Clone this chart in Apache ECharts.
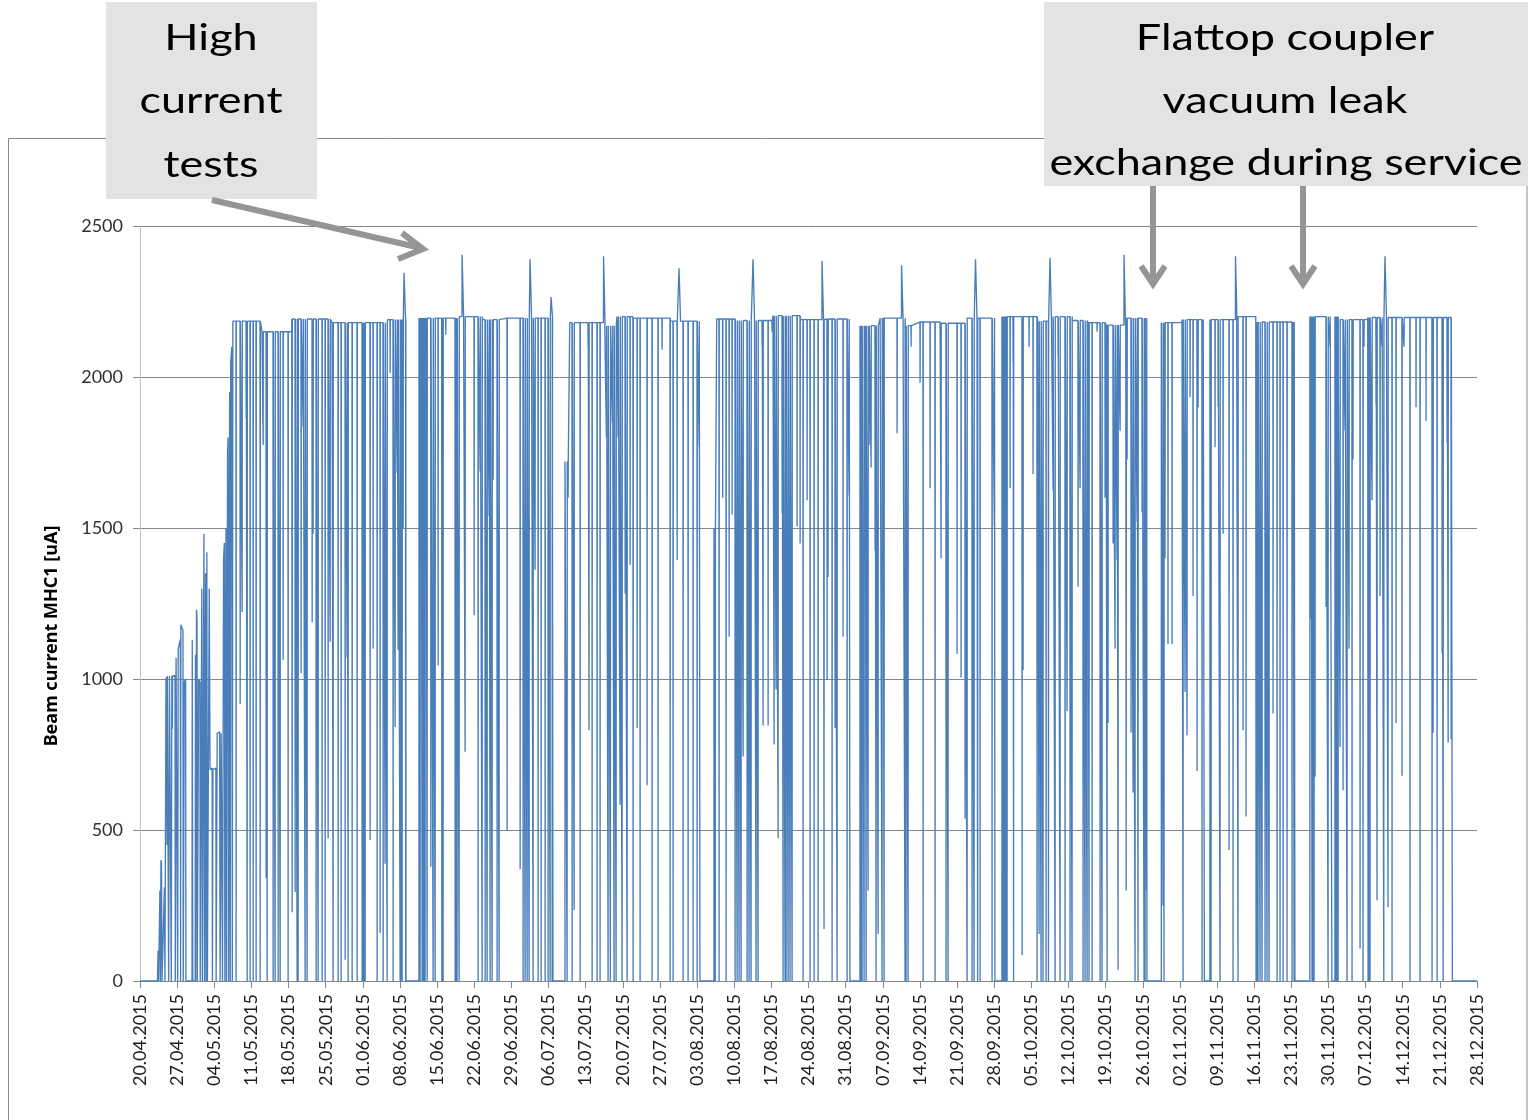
<!DOCTYPE html>
<html>
<head>
<meta charset="utf-8">
<title>Beam current MHC1 2015</title>
<script src="https://cdn.jsdelivr.net/npm/echarts@6/dist/echarts.min.js"></script>
<style>
  html, body { margin: 0; padding: 0; background: #ffffff; }
  #chart { width: 1537px; height: 1120px; }
</style>
</head>
<body>
<div id="chart"></div>
<script>
// Time is counted in days since Monday 20.04.2015; values are beam current in uA.
const START_DATE = Date.UTC(2015, 3, 20);
const AXIS_DAYS = 252;            // 20.04.2015 .. 28.12.2015
const TICK_DAYS = 7;              // weekly date labels
const Y_TICKS = [0, 500, 1000, 1500, 2000, 2500];

// Commissioning ramp before the first production week: [day, uA]
const ramp = [
  [0, 0], [3.3, 0], [3.4, 100], [3.5, 0], [3.7, 0], [3.75, 300], [3.85, 0], [3.95, 400], [4.05, 390], [4.15, 0],
  [4.5, 0], [4.6, 310], [4.7, 0], [4.85, 0],
  [4.9, 1005], [5.05, 1010], [5.1, 450], [5.15, 1010], [5.35, 1010], [5.4, 0], [5.5, 0], [5.55, 1010], [5.85, 1010],
  [5.9, 0], [6.0, 1010], [6.1, 835], [6.15, 1010], [6.6, 1012], [6.65, 0], [6.75, 0], [6.8, 1070], [7.0, 1075],
  [7.1, 0], [7.2, 1100], [7.6, 1130], [7.65, 0], [7.7, 1180], [8.1, 1160], [8.15, 0], [8.3, 0], [8.35, 990],
  [8.6, 1000], [8.65, 0],
  [9.8, 0], [9.85, 1130], [9.95, 0], [10.4, 0], [10.45, 1080], [10.5, 0], [10.6, 0], [10.65, 1230], [10.75, 1195],
  [10.8, 0], [11.0, 0], [11.05, 1000], [11.3, 990], [11.35, 0], [11.6, 0], [11.65, 1300], [11.75, 0], [12.0, 0],
  [12.05, 1480], [12.15, 0], [12.3, 0], [12.35, 1350], [12.45, 0], [12.6, 1420], [12.7, 0], [13.0, 0], [13.05, 1300],
  [13.2, 700], [13.6, 705], [13.65, 0], [13.75, 700], [14.3, 705], [14.35, 0], [14.5, 0], [14.55, 820], [15.0, 825],
  [15.1, 0], [15.3, 820], [15.5, 820], [15.55, 0], [15.7, 0], [15.75, 1400], [15.9, 1450], [16.0, 0], [16.2, 1500],
  [16.3, 0], [16.5, 1750], [16.6, 1800], [16.7, 0], [16.9, 1950], [17.0, 0], [17.1, 2050], [17.3, 2100], [17.4, 0]
];

// Production periods with beam on: [first day, last day]
const runs = [
  [17.5, 50.13], [52.58, 77.84], [80.10, 105.54], [108.18, 133.81], [135.70, 161.14],
  [162.46, 189.79], [192.5, 200.62], [201.66, 217.68], [220.5, 224.65], [225.22, 247.36]
];

// Flattop current set points: [day from which it applies, uA]
const levelSteps = [
  [17.5, 2185], [23.0, 2150], [28.6, 2192], [36.2, 2180], [46.7, 2190],
  [52.58, 2195], [59.9, 2200], [64.6, 2190], [67.8, 2195],
  [80.1, 1720], [81.0, 2180], [87.6, 2170], [89.9, 2200], [92.9, 2195], [99.9, 2185],
  [108.18, 1500], [108.7, 2192], [112.5, 2187], [119.3, 2203], [124.4, 2190], [129.1, 2192],
  [135.7, 2170], [139.5, 2195], [144.2, 2170], [147.0, 2182], [150.8, 2178], [155.9, 2195],
  [162.46, 2200], [169.2, 2185], [172.1, 2200], [175.7, 2187], [178.7, 2180], [182.1, 2172], [185.8, 2195],
  [192.5, 2180], [196.4, 2190], [206.7, 2200], [210.3, 2182],
  [220.5, 2200], [225.8, 2190], [231.4, 2197]
];

// Beam trips: [day, lowest current reached in uA]
const trips = [
  [18.09, 0], [18.85, 917], [19.22, 1222], [19.98, 1864], [20.17, 0], [20.73, 0], [21.30, 0], [21.86, 0], [22.62, 0],
  [23.18, 1775], [23.75, 341], [23.94, 0], [25.07, 0], [25.44, 0], [26.01, 0], [26.39, 0], [26.95, 1064], [27.89, 0],
  [28.65, 228], [29.21, 295], [29.59, 0], [29.78, 0], [30.34, 1020], [30.72, 1834], [31.10, 0], [31.47, 0],
  [32.42, 1189], [32.60, 1481], [33.17, 0], [33.55, 0], [34.30, 0], [34.87, 0], [35.43, 473], [35.81, 1123],
  [36.37, 0], [37.32, 0], [37.88, 0], [38.64, 70], [39.01, 1070], [39.20, 0], [39.96, 0], [40.90, 0], [41.84, 0],
  [42.03, 0], [42.22, 0], [42.41, 0], [43.35, 467], [43.91, 1100], [44.67, 0], [45.23, 159], [45.80, 0],
  [46.17, 388], [46.55, 0], [47.12, 2013], [47.68, 0], [48.06, 841], [48.44, 1682], [48.62, 1096], [49.00, 0],
  [49.19, 0], [49.38, 0], [49.57, 1500], [50.05, 0],

  [52.77, 0], [52.96, 1800], [53.15, 0], [53.34, 0], [53.52, 0], [53.71, 0], [53.90, 2050], [54.09, 0], [54.79, 378],
  [55.22, 0], [55.60, 0], [56.16, 1045], [56.86, 0], [57.10, 0], [57.61, 2140], [59.37, 0], [59.55, 0], [59.74, 0],
  [60.12, 0], [61.25, 759], [62.95, 1211], [63.70, 0], [64.08, 1687], [64.46, 0], [65.02, 0], [65.40, 0],
  [65.77, 1540], [65.96, 0], [66.34, 0], [66.53, 1660], [67.28, 0], [67.66, 0], [69.17, 497], [71.62, 370],
  [72.18, 0], [72.56, 0], [72.94, 0], [73.31, 0], [74.07, 0], [74.44, 1362], [75.01, 0], [75.58, 0], [76.33, 0],
  [76.89, 0], [77.27, 0], [77.65, 0],

  [80.47, 0], [80.66, 1600], [81.42, 0], [81.80, 235], [82.93, 0], [84.43, 2100], [84.60, 830], [85.19, 0],
  [86.13, 0], [86.69, 0], [87.88, 1800], [88.20, 0], [88.63, 0], [89.01, 1850], [89.33, 0], [89.71, 0],
  [90.08, 1800], [90.46, 584], [90.84, 0], [91.41, 1283], [91.78, 0], [92.35, 1378], [92.92, 0], [93.67, 838],
  [94.23, 0], [95.55, 648], [96.49, 0], [97.62, 0], [98.38, 2090], [99.89, 0], [100.45, 0], [101.21, 1394],
  [102.34, 0], [103.28, 0], [104.22, 0], [104.98, 0], [105.36, 1770],

  [108.40, 0], [109.12, 0], [109.80, 1600], [110.44, 0], [111.01, 1140], [111.57, 1545], [112.14, 0], [112.52, 0],
  [112.89, 0], [113.27, 0], [113.65, 743], [114.40, 0], [114.78, 0], [115.15, 0], [116.09, 0], [116.47, 0],
  [117.23, 2100], [117.41, 846], [118.36, 846], [119.11, 2150], [119.49, 783], [119.86, 965], [120.24, 473],
  [121.00, 1550], [121.18, 0], [121.56, 0], [121.75, 0], [122.13, 0], [122.50, 0], [122.88, 0], [123.82, 1505],
  [124.39, 1449], [124.95, 0], [125.71, 1592], [126.27, 0], [127.03, 0], [127.78, 0], [128.90, 172], [129.48, 997],
  [129.66, 1338], [130.42, 0], [130.98, 838], [131.36, 0], [132.49, 1140], [133.25, 0], [133.62, 1608],

  [135.88, 0], [136.07, 0], [136.45, 0], [136.64, 1500], [136.83, 0], [137.20, 300], [137.39, 1775], [137.77, 1700],
  [138.52, 1425], [138.71, 0], [139.09, 156], [139.84, 0], [140.03, 1862], [140.22, 0], [142.67, 1814],
  [144.17, 0], [144.36, 0], [144.74, 0], [145.31, 2100], [147.00, 1981], [147.57, 0], [148.89, 1632], [149.83, 0],
  [150.96, 1400], [151.90, 0], [152.28, 0], [153.98, 1084], [154.73, 1005], [155.48, 537], [155.86, 0],
  [156.80, 0], [157.18, 0], [157.85, 0], [158.31, 0], [160.57, 0], [161.00, 1505],

  [162.65, 0], [162.83, 0], [163.02, 0], [163.21, 0], [163.40, 0], [163.97, 1632], [164.53, 2050], [164.62, 0],
  [166.23, 85], [166.42, 1029], [167.55, 2100], [168.30, 1679], [169.05, 0], [169.43, 156], [169.81, 0],
  [170.18, 0], [170.75, 0], [171.20, 0], [172.07, 1624], [172.45, 0], [173.01, 2068], [173.39, 0], [174.33, 0],
  [174.71, 894], [175.27, 0], [175.65, 0], [176.78, 1306], [177.16, 1632], [177.72, 0], [178.10, 0], [178.48, 0],
  [178.85, 0], [179.42, 0], [180.36, 2150], [180.93, 0], [181.30, 0], [181.87, 1600], [182.25, 0], [182.43, 854],
  [183.38, 1449], [183.75, 1100], [184.13, 1394], [184.32, 37], [184.70, 1822], [185.85, 300], [186.02, 1727],
  [186.77, 822], [187.15, 624], [187.52, 0], [187.90, 1521], [188.09, 0], [188.84, 1552], [189.22, 0],
  [189.41, 0], [189.69, 300],

  [192.79, 250], [192.98, 0], [193.17, 1400], [193.73, 1116], [194.49, 1116], [196.38, 2100], [196.57, 0],
  [196.95, 957], [197.32, 814], [197.89, 1933], [198.45, 1275], [199.21, 695], [199.40, 1900], [200.15, 0],
  [200.34, 1965],
  [201.85, 0], [202.60, 1767], [203.17, 1902], [203.54, 0], [204.11, 1481], [205.24, 434], [205.99, 0],
  [206.93, 0], [207.88, 830], [208.44, 545], [210.33, 0], [210.52, 0], [210.70, 0], [211.08, 0], [211.46, 0],
  [212.02, 0], [212.40, 0], [212.78, 0], [213.53, 886], [214.29, 0], [214.85, 0], [215.42, 0], [216.17, 0],
  [217.11, 0], [217.30, 1450], [217.49, 0],

  [220.69, 1200], [220.88, 0], [221.07, 0], [221.26, 0], [221.45, 676], [223.52, 1238], [223.90, 0], [224.27, 2100],
  [225.41, 0], [225.60, 0], [225.79, 0], [226.16, 775], [226.73, 632], [227.10, 1822], [227.48, 0], [227.86, 1100],
  [228.42, 0], [228.61, 1727], [229.93, 108], [230.49, 0], [230.68, 2100], [231.44, 0], [231.62, 0], [231.81, 0],
  [232.19, 1592], [232.94, 1910], [233.13, 267], [233.70, 1275], [234.07, 2100], [234.40, 0], [235.20, 244],
  [235.96, 0], [236.71, 854], [237.84, 680], [238.22, 2100], [239.35, 0], [240.48, 1900], [241.24, 0],
  [242.37, 1854], [243.50, 0], [243.70, 822], [244.45, 0], [245.40, 1084], [245.59, 0], [246.34, 1782],
  [246.53, 790], [247.10, 800]
];

// High-current test pulses: [day, peak uA]
const peaks = [
  [49.75, 2345], [60.69, 2405], [73.50, 2390], [77.46, 2265], [87.35, 2400], [101.58, 2360], [115.53, 2390],
  [128.53, 2385], [143.52, 2370], [157.46, 2390], [171.50, 2395], [185.45, 2405], [206.46, 2400], [234.64, 2400]
];

// ---------------------------------------------------------------------------
function levelAt(day) {
  let lv = levelSteps[0][1];
  for (const [d, v] of levelSteps) {
    if (d <= day) lv = v; else break;
  }
  return lv;
}

function buildTrace() {
  const trace = ramp.map(p => p.slice());
  runs.forEach(([s, e]) => {
    const events = [];
    trips.forEach(([d, v]) => { if (d >= s && d <= e) events.push({ d, kind: 'trip', v }); });
    peaks.forEach(([d, v]) => { if (d >= s && d <= e) events.push({ d, kind: 'peak', v }); });
    levelSteps.forEach(([d, v]) => { if (d > s && d < e) events.push({ d, kind: 'step', v }); });
    events.sort((a, b) => a.d - b.d);

    trace.push([s, 0], [s, levelAt(s)]);
    events.forEach(ev => {
      if (ev.kind === 'step') {
        trace.push([ev.d, levelAt(ev.d - 1e-6)], [ev.d, ev.v]);
      } else if (ev.kind === 'trip') {
        const lv = levelAt(ev.d);
        trace.push([ev.d, lv], [ev.d + 0.03, ev.v], [ev.d + 0.06, lv]);
      } else {
        const lv = levelAt(ev.d);
        trace.push([ev.d, lv], [ev.d + 0.02, ev.v], [ev.d + 0.28, ev.v], [ev.d + 0.3, lv]);
      }
    });
    trace.push([e, levelAt(e)], [e, 0]);
  });
  trace.push([AXIS_DAYS, 0]);
  return trace;
}

function dayLabel(day) {
  const dt = new Date(START_DATE + day * 86400000);
  const dd = String(dt.getUTCDate()).padStart(2, '0');
  const mm = String(dt.getUTCMonth() + 1).padStart(2, '0');
  return dd + '.' + mm + '.' + dt.getUTCFullYear();
}

const GRID = { left: 140, right: 60, top: 226, bottom: 139 };
const ARROW = '#959595';
const BOX = '#e3e3e3';
const TITLE_FONT = '36px Lato, "Open Sans", sans-serif';

const chart = echarts.init(document.getElementById('chart'), null, { renderer: 'canvas' });

function noteText(text, x, y) {
  return {
    type: 'text', x: x, y: y, scaleX: 1.25, z: 120,
    style: {
      text: text, font: TITLE_FONT, fill: '#000000',
      align: 'center', verticalAlign: 'middle', textAlign: 'center', textVerticalAlign: 'middle'
    }
  };
}
function strokeLine(points) {
  return {
    type: 'polyline', z: 120,
    shape: { points: points },
    style: { stroke: ARROW, lineWidth: 6, fill: null, lineJoin: 'miter' }
  };
}

chart.setOption({
  animation: false,
  backgroundColor: '#ffffff',
  grid: Object.assign({ containLabel: false }, GRID),
  xAxis: {
    type: 'value',
    min: 0,
    max: AXIS_DAYS,
    interval: TICK_DAYS,
    axisLine: { show: true, onZero: false, lineStyle: { color: '#868686', width: 1 } },
    axisTick: { show: true, length: 7, lineStyle: { color: '#868686' } },
    splitLine: { show: false },
    axisLabel: {
      rotate: 90,
      margin: 13,
      color: '#1e1e1e',
      fontFamily: 'Lato, "Open Sans", sans-serif',
      fontSize: 18,
      formatter: v => dayLabel(v),
      showMinLabel: true,
      showMaxLabel: true
    }
  },
  yAxis: {
    type: 'value',
    min: Y_TICKS[0],
    max: Y_TICKS[Y_TICKS.length - 1],
    interval: Y_TICKS[1] - Y_TICKS[0],
    axisLine: { show: true, lineStyle: { color: '#bfbfbf', width: 1 } },
    axisTick: { show: true, length: 7, lineStyle: { color: '#868686' } },
    splitLine: { show: true, lineStyle: { color: '#868686', width: 1 } },
    axisLabel: {
      margin: 17,
      color: '#303030',
      fontFamily: 'Lato, "Open Sans", sans-serif',
      fontSize: 18,
      formatter: v => String(v)
    }
  },
  series: [{
    name: 'Beam current MHC1',
    type: 'line',
    data: buildTrace(),
    symbol: 'none',
    showSymbol: false,
    sampling: null,
    clip: true,
    lineStyle: { color: '#4a7ebb', width: 1.35 },
    emphasis: { disabled: true },
    z: 5
  }],
  graphic: {
    elements: [
      // chart frame
      { type: 'rect', z: 110, shape: { x: 8.5, y: 138.5, width: 1518.5, height: 1000 },
        style: { fill: null, stroke: '#8a8a8a', lineWidth: 1 } },
      // axis title
      { type: 'text', x: 52, y: 636, rotation: Math.PI / 2, z: 110,
        style: { text: 'Beam current MHC1 [uA]', fill: '#000000',
                 fontFamily: '"Noto Sans", "Open Sans", sans-serif', fontWeight: 'bold', fontSize: 18,
                 align: 'center', verticalAlign: 'middle', textAlign: 'center', textVerticalAlign: 'middle' } },
      // annotation boxes
      { type: 'rect', z: 115, shape: { x: 106, y: 2, width: 211, height: 197 }, style: { fill: BOX } },
      { type: 'rect', z: 115, shape: { x: 1044, y: 2, width: 484, height: 184 }, style: { fill: BOX } },
      noteText('High', 211, 38),
      noteText('current', 211, 101),
      noteText('tests', 211, 165),
      noteText('Flattop coupler', 1285, 38),
      noteText('vacuum leak', 1285, 101),
      noteText('exchange during service', 1286, 163),
      // arrows
      strokeLine([[212, 200], [421, 248]]),
      strokeLine([[402, 233], [423, 249], [398, 259]]),
      strokeLine([[1153, 186], [1153, 284]]),
      strokeLine([[1141, 266], [1153, 284], [1165, 266]]),
      strokeLine([[1303, 186], [1303, 284]]),
      strokeLine([[1291, 266], [1303, 284], [1315, 266]])
    ]
  }
});
</script>
</body>
</html>
